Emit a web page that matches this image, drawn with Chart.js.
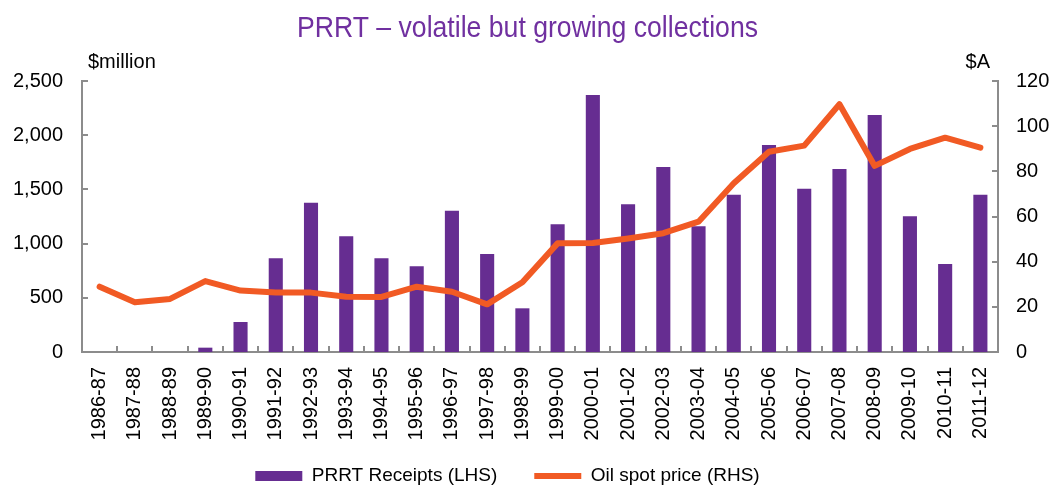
<!DOCTYPE html>
<html>
<head>
<meta charset="utf-8">
<script src="https://cdn.jsdelivr.net/npm/chart.js@4"></script>
<style>
  html, body { margin: 0; padding: 0; background: #fff; }
</style>
</head>
<body>
<canvas id="prrtChart" width="1055" height="486"></canvas>
<script>
// Financial years on the x axis
const years = [
  '1986-87', '1987-88', '1988-89', '1989-90', '1990-91', '1991-92', '1992-93',
  '1993-94', '1994-95', '1995-96', '1996-97', '1997-98', '1998-99', '1999-00',
  '2000-01', '2001-02', '2002-03', '2003-04', '2004-05', '2005-06', '2006-07',
  '2007-08', '2008-09', '2009-10', '2010-11', '2011-12'
];

// PRRT receipts, $million (LHS)
const receipts = [
  0, 0, 0, 40, 277, 864, 1377, 1067, 864, 790, 1304, 904, 403, 1178,
  2371, 1362, 1707, 1159, 1451, 1910, 1507, 1688, 2186, 1252, 812, 1451
];

// Oil spot price, $A (RHS)
const oilPrice = [
  28.9, 22.0, 23.5, 31.4, 27.2, 26.4, 26.3, 24.5, 24.4, 28.9, 26.7, 21.1, 30.9, 48.1,
  48.3, 50.3, 52.6, 57.7, 74.7, 88.7, 91.4, 109.7, 82.4, 89.9, 94.9, 90.5
];

const leftTicks = [0, 500, 1000, 1500, 2000, 2500];
const rightTicks = [0, 20, 40, 60, 80, 100, 120];

const TITLE = 'PRRT \u2013 volatile but growing collections';
const PURPLE = '#662D91';
const ORANGE = '#F15A24';
const AXIS_GREY = '#8c8c8c';
const FONT = "'Liberation Sans', Arial, sans-serif";

// title (condensed), inward tick marks, unit labels; legend nudged into place
const axisExtras = {
  id: 'axisExtras',
  afterLayout(chart) {
    const lg = chart.legend;
    if (!lg) return;
    // legend clips to its own box, so grow it upwards and left instead of moving it
    lg.top -= 18.5;
    lg.left -= 40;
  },
  afterDraw(chart) {
    const { ctx, chartArea: a, scales } = chart;
    const len = 6;
    ctx.save();
    ctx.strokeStyle = AXIS_GREY;
    ctx.lineWidth = 2;
    ctx.beginPath();
    leftTicks.forEach(v => {
      const y = Math.round(scales.y.getPixelForValue(v));
      ctx.moveTo(a.left, y);
      ctx.lineTo(a.left + len, y);
    });
    rightTicks.forEach(v => {
      const y = Math.round(scales.y1.getPixelForValue(v));
      ctx.moveTo(a.right, y);
      ctx.lineTo(a.right - len, y);
    });
    for (let i = 0; i <= years.length; i++) {
      const x = Math.round(scales.x.getPixelForValue(i - 0.5));
      ctx.moveTo(x, a.bottom);
      ctx.lineTo(x, a.bottom - len);
    }
    ctx.stroke();

    ctx.fillStyle = '#000';
    ctx.font = '20px ' + FONT;
    ctx.textBaseline = 'middle';
    ctx.textAlign = 'left';
    ctx.fillText('$million', a.left + 6, 62);
    ctx.textAlign = 'right';
    ctx.fillText('$A', a.right - 8, 62);

    // title, squeezed like the narrow face in the original
    ctx.font = '29px ' + FONT;
    ctx.textAlign = 'center';
    ctx.textBaseline = 'alphabetic';
    ctx.fillStyle = '#7030A0';
    const w = ctx.measureText(TITLE).width;
    const sx = 461 / w;
    ctx.translate(527.5, 36.5);
    ctx.scale(sx, 1);
    ctx.fillText(TITLE, 0, 0);
    ctx.restore();
  }
};

const ctx = document.getElementById('prrtChart').getContext('2d');

new Chart(ctx, {
  type: 'bar',
  data: {
    labels: years,
    datasets: [
      {
        type: 'line',
        label: 'Oil spot price (RHS)',
        data: oilPrice,
        yAxisID: 'y1',
        borderColor: ORANGE,
        backgroundColor: ORANGE,
        borderWidth: 6,
        borderJoinStyle: 'round',
        borderCapStyle: 'round',
        pointRadius: 0,
        pointStyle: 'line',
        tension: 0,
        order: 0
      },
      {
        label: 'PRRT Receipts (LHS)',
        data: receipts,
        yAxisID: 'y',
        backgroundColor: PURPLE,
        borderWidth: 0,
        pointStyle: 'rect',
        barPercentage: 0.4,
        categoryPercentage: 1,
        order: 1
      }
    ]
  },
  options: {
    responsive: false,
    animation: false,
    devicePixelRatio: 1,
    layout: { padding: { top: 81 } },
    scales: {
      x: {
        offset: true,
        grid: { display: false, drawTicks: false },
        border: { color: AXIS_GREY, width: 2 },
        ticks: {
          color: '#000',
          font: { family: FONT, size: 20 },
          minRotation: 90,
          maxRotation: 90,
          autoSkip: false,
          padding: 15
        },
        afterFit(scale) { scale.height = 96; }
      },
      y: {
        position: 'left',
        min: 0,
        max: 2500,
        grid: { display: false, drawTicks: false },
        border: { color: AXIS_GREY, width: 2 },
        ticks: {
          stepSize: 500,
          color: '#000',
          font: { family: FONT, size: 20 },
          padding: 19,
          callback: v => v.toLocaleString('en-US')
        },
        afterFit(scale) { scale.width = 82; }
      },
      y1: {
        position: 'right',
        min: 0,
        max: 120,
        grid: { display: false, drawTicks: false },
        border: { color: AXIS_GREY, width: 2 },
        ticks: {
          stepSize: 20,
          color: '#000',
          font: { family: FONT, size: 20 },
          padding: 18
        },
        afterFit(scale) { scale.width = 57; }
      }
    },
    plugins: {
      title: { display: false },
      legend: {
        position: 'bottom',
        reverse: true,
        maxHeight: 38,
        labels: {
          usePointStyle: true,
          pointStyleWidth: 47,
          boxHeight: 10,
          padding: 37,
          color: '#000',
          font: { family: FONT, size: 19 }
        }
      },
      tooltip: { enabled: false }
    }
  },
  plugins: [axisExtras]
});
</script>
</body>
</html>
